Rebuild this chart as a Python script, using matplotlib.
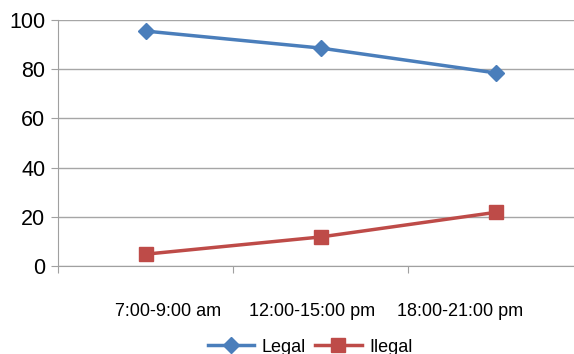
import matplotlib.pyplot as plt

# data
periods = ["7:00-9:00 am", "12:00-15:00 pm", "18:00-21:00 pm"]
legal = [95.5, 88.6, 78.5]
illegal = [4.8, 11.8, 21.8]

plt.rcParams['font.family'] = ['Liberation Sans', 'DejaVu Sans']

fig = plt.figure(figsize=(5.74, 3.54), dpi=100)
W, H = 574, 354
ax = fig.add_axes([58 / W, 1 - 266 / H, (583 - 58) / W, (266 - 20) / H])

x = list(range(len(periods)))
ax.plot(x, legal, color="#4a7ebb", lw=2.5, marker="D", ms=8, label="Legal", zorder=3)
ax.plot(x, illegal, color="#be4b48", lw=2.5, marker="s", ms=10, label="Ilegal", zorder=3)

ax.set_xlim(-0.5, 2.5)
ax.set_ylim(0, 100)
ax.set_yticks(range(0, 101, 20))
ax.yaxis.grid(True, color="#a6a6a6", lw=1)
ax.set_axisbelow(True)

for s in ["top", "right"]:
    ax.spines[s].set_visible(False)
for s in ["left", "bottom"]:
    ax.spines[s].set_color("#a0a0a0")

ax.set_xticks([-0.5, 0.5, 1.5])
ax.set_xticklabels([])
ax.tick_params(axis="x", length=5, color="#a0a0a0", direction="out")
ax.tick_params(axis="y", length=5, color="#a0a0a0", labelsize=15.5, pad=4)

# category labels sit a little off-centre in the reference
label_px = [168, 312, 460]
for px, lab in zip(label_px, periods):
    fig.text(px / W, 1 - 311 / H, lab, ha="center", va="center", fontsize=13)

fig.legend(loc="center", bbox_to_anchor=(310 / W, 1 - 347 / H), ncol=2, frameon=False,
           fontsize=13, handlelength=2.6, columnspacing=0.5, handletextpad=0.4)

fig.savefig("out.png", dpi=100)
